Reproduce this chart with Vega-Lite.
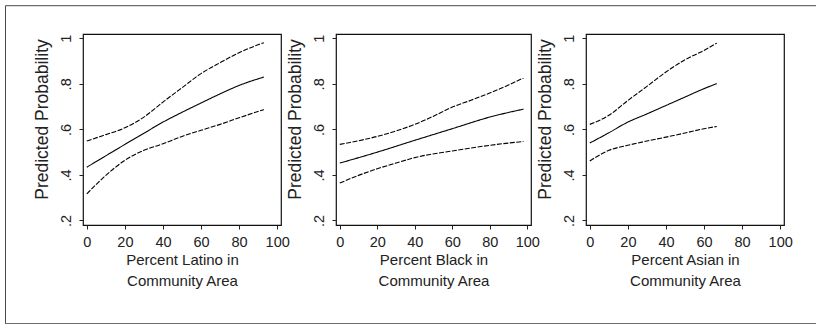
{
  "$schema": "https://vega.github.io/schema/vega-lite/v6.json",
  "padding": {"left": 4, "top": 4, "right": 0, "bottom": 0},
  "background": "white",
  "spacing": 55,
  "bounds": "flush",
  "config": {
    "font": "Liberation Sans",
    "view": {"stroke": "#111", "strokeWidth": 1.2},
    "axis": {
      "domain": false, "grid": false, "tickColor": "#222", "tickSize": 4, "tickWidth": 1,
      "labelFont": "Liberation Sans", "labelFontSize": 14.5, "labelColor": "#222",
      "titleFont": "Liberation Sans", "titleFontSize": 15, "titleFontWeight": "normal", "titleColor": "#222",
      "labelOverlap": false
    },
    "axisX": {"values": [0, 20, 40, 60, 80, 100], "labelPadding": 6, "titlePadding": 4, "titleLineHeight": 21, "labelFlush": false},
    "axisY": {"values": [0.2, 0.4, 0.6, 0.8, 1], "labelAngle": -90, "labelAlign": "center", "labelBaseline": "bottom", "labelPadding": 6, "titlePadding": 7, "titleFontSize": 17.5, "titleY": 85,
      "labelExpr": "datum.value > 0.99 ? '1' : replace(format(datum.value, '.1f'), '0.', '.')"},
    "line": {"color": "black", "strokeWidth": 1.1, "interpolate": "monotone"}
  },
  "datasets": {
    "latino": [
      {"pct": 0, "prob": 0.434, "band": "mid"}, {"pct": 10, "prob": 0.484, "band": "mid"}, {"pct": 20, "prob": 0.534, "band": "mid"}, {"pct": 30, "prob": 0.583, "band": "mid"}, {"pct": 40, "prob": 0.632, "band": "mid"}, {"pct": 50, "prob": 0.675, "band": "mid"}, {"pct": 60, "prob": 0.716, "band": "mid"}, {"pct": 70, "prob": 0.756, "band": "mid"}, {"pct": 80, "prob": 0.793, "band": "mid"}, {"pct": 93, "prob": 0.830, "band": "mid"},
      {"pct": 0, "prob": 0.549, "band": "upper"}, {"pct": 10, "prob": 0.577, "band": "upper"}, {"pct": 20, "prob": 0.607, "band": "upper"}, {"pct": 30, "prob": 0.654, "band": "upper"}, {"pct": 40, "prob": 0.720, "band": "upper"}, {"pct": 50, "prob": 0.783, "band": "upper"}, {"pct": 60, "prob": 0.845, "band": "upper"}, {"pct": 70, "prob": 0.893, "band": "upper"}, {"pct": 80, "prob": 0.937, "band": "upper"}, {"pct": 93, "prob": 0.981, "band": "upper"},
      {"pct": 0, "prob": 0.317, "band": "lower"}, {"pct": 10, "prob": 0.398, "band": "lower"}, {"pct": 20, "prob": 0.464, "band": "lower"}, {"pct": 30, "prob": 0.508, "band": "lower"}, {"pct": 40, "prob": 0.537, "band": "lower"}, {"pct": 50, "prob": 0.569, "band": "lower"}, {"pct": 60, "prob": 0.596, "band": "lower"}, {"pct": 70, "prob": 0.622, "band": "lower"}, {"pct": 80, "prob": 0.651, "band": "lower"}, {"pct": 93, "prob": 0.687, "band": "lower"}
    ],
    "black": [
      {"pct": 0, "prob": 0.452, "band": "mid"}, {"pct": 20, "prob": 0.500, "band": "mid"}, {"pct": 40, "prob": 0.552, "band": "mid"}, {"pct": 60, "prob": 0.603, "band": "mid"}, {"pct": 80, "prob": 0.654, "band": "mid"}, {"pct": 98, "prob": 0.689, "band": "mid"},
      {"pct": 0, "prob": 0.534, "band": "upper"}, {"pct": 10, "prob": 0.550, "band": "upper"}, {"pct": 20, "prob": 0.569, "band": "upper"}, {"pct": 30, "prob": 0.593, "band": "upper"}, {"pct": 40, "prob": 0.622, "band": "upper"}, {"pct": 50, "prob": 0.658, "band": "upper"}, {"pct": 60, "prob": 0.698, "band": "upper"}, {"pct": 70, "prob": 0.728, "band": "upper"}, {"pct": 80, "prob": 0.760, "band": "upper"}, {"pct": 90, "prob": 0.795, "band": "upper"}, {"pct": 98, "prob": 0.826, "band": "upper"},
      {"pct": 0, "prob": 0.364, "band": "lower"}, {"pct": 10, "prob": 0.398, "band": "lower"}, {"pct": 20, "prob": 0.427, "band": "lower"}, {"pct": 30, "prob": 0.452, "band": "lower"}, {"pct": 40, "prob": 0.476, "band": "lower"}, {"pct": 60, "prob": 0.505, "band": "lower"}, {"pct": 80, "prob": 0.530, "band": "lower"}, {"pct": 98, "prob": 0.547, "band": "lower"}
    ],
    "asian": [
      {"pct": 0, "prob": 0.540, "band": "mid"}, {"pct": 10, "prob": 0.585, "band": "mid"}, {"pct": 20, "prob": 0.632, "band": "mid"}, {"pct": 30, "prob": 0.668, "band": "mid"}, {"pct": 40, "prob": 0.705, "band": "mid"}, {"pct": 50, "prob": 0.742, "band": "mid"}, {"pct": 60, "prob": 0.779, "band": "mid"}, {"pct": 66.7, "prob": 0.801, "band": "mid"},
      {"pct": 0, "prob": 0.622, "band": "upper"}, {"pct": 10, "prob": 0.662, "band": "upper"}, {"pct": 20, "prob": 0.727, "band": "upper"}, {"pct": 30, "prob": 0.789, "band": "upper"}, {"pct": 40, "prob": 0.852, "band": "upper"}, {"pct": 50, "prob": 0.906, "band": "upper"}, {"pct": 60, "prob": 0.947, "band": "upper"}, {"pct": 66.7, "prob": 0.979, "band": "upper"},
      {"pct": 0, "prob": 0.461, "band": "lower"}, {"pct": 10, "prob": 0.508, "band": "lower"}, {"pct": 20, "prob": 0.530, "band": "lower"}, {"pct": 30, "prob": 0.549, "band": "lower"}, {"pct": 40, "prob": 0.566, "band": "lower"}, {"pct": 50, "prob": 0.584, "band": "lower"}, {"pct": 60, "prob": 0.603, "band": "lower"}, {"pct": 66.7, "prob": 0.613, "band": "lower"}
    ]
  },
  "hconcat": [
    {"width": 198, "height": 191, "data": {"name": "latino"},
      "encoding": {
        "x": {"field": "pct", "type": "quantitative", "scale": {"domain": [-2, 102], "nice": false, "zero": false}, "axis": {"title": ["Percent Latino in", "Community Area"]}},
        "y": {"field": "prob", "type": "quantitative", "scale": {"domain": [0.18, 1.019], "nice": false, "zero": false}, "axis": {"title": "Predicted Probability"}}
      },
      "layer": [
        {"mark": "line",
          "encoding": {
            "detail": {"field": "band"},
            "strokeDash": {"field": "band", "type": "nominal", "scale": {"domain": ["lower", "mid", "upper"], "range": [[5, 1.5], [1, 0], [5, 1.5]]}, "legend": null}
          }},
        {"mark": {"type": "point", "opacity": 0, "filled": true},
          "encoding": {
            "color": {"field": "prob", "type": "quantitative", "scale": {"range": ["white", "white"]},
              "legend": {"orient": "none", "legendX": -78, "legendY": -28.8, "direction": "horizontal", "gradientLength": 811, "gradientThickness": 318,
                "gradientOpacity": 0, "gradientStrokeWidth": 0, "title": null, "values": [], "labelOpacity": 0, "labelFontSize": 1, "labelOffset": 0,
                "padding": 0, "strokeColor": "#4a4a4a", "fillColor": null}}
          }}
      ]},
    {"width": 195, "height": 191, "data": {"name": "black"}, "mark": "line",
      "encoding": {
        "x": {"field": "pct", "type": "quantitative", "scale": {"domain": [-2, 102], "nice": false, "zero": false}, "axis": {"title": ["Percent Black in", "Community Area"]}},
        "y": {"field": "prob", "type": "quantitative", "scale": {"domain": [0.18, 1.019], "nice": false, "zero": false}, "axis": {"title": "Predicted Probability"}},
        "detail": {"field": "band"},
        "strokeDash": {"field": "band", "type": "nominal", "scale": {"domain": ["lower", "mid", "upper"], "range": [[5, 1.5], [1, 0], [5, 1.5]]}, "legend": null}
      }},
    {"width": 198, "height": 191, "data": {"name": "asian"}, "mark": "line",
      "encoding": {
        "x": {"field": "pct", "type": "quantitative", "scale": {"domain": [-2, 102], "nice": false, "zero": false}, "axis": {"title": ["Percent Asian in", "Community Area"]}},
        "y": {"field": "prob", "type": "quantitative", "scale": {"domain": [0.18, 1.019], "nice": false, "zero": false}, "axis": {"title": "Predicted Probability"}},
        "detail": {"field": "band"},
        "strokeDash": {"field": "band", "type": "nominal", "scale": {"domain": ["lower", "mid", "upper"], "range": [[5, 1.5], [1, 0], [5, 1.5]]}, "legend": null}
      }}
  ]
}
